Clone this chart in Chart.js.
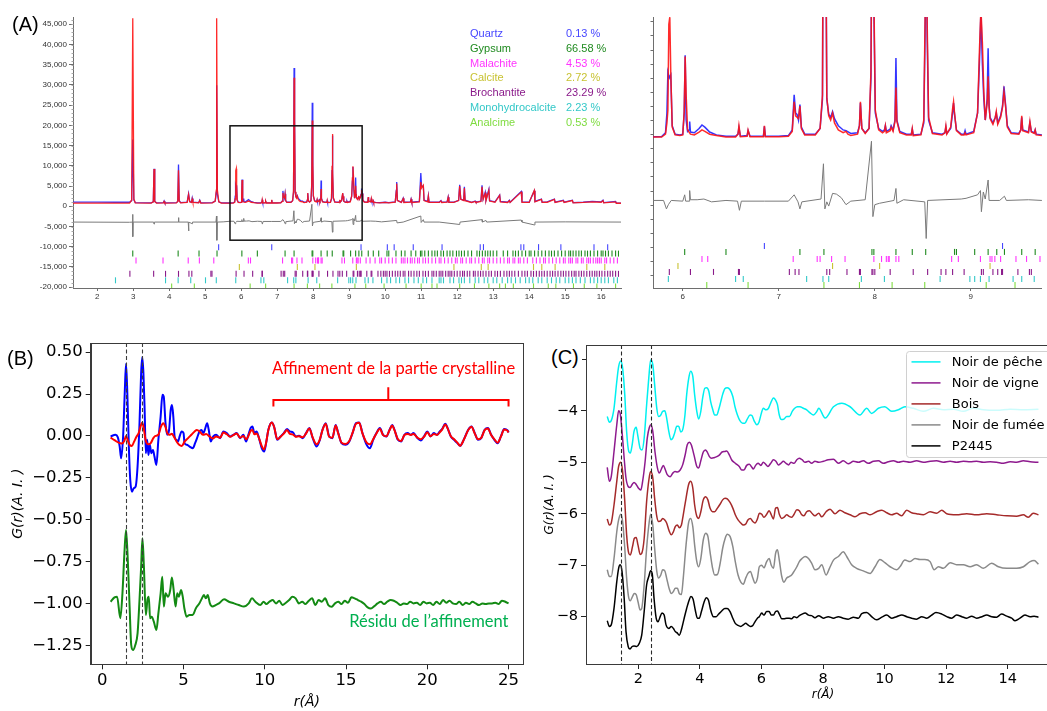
<!DOCTYPE html>
<html>
<head>
<meta charset="utf-8">
<script src="https://cdn.jsdelivr.net/npm/chart.js@4.4.1/dist/chart.umd.min.js"></script>
<style>
  html, body { margin: 0; padding: 0; background: #fff; }
  body { width: 1047px; height: 711px; overflow: hidden; position: relative; }
  canvas { position: absolute; }
  .tag { position: absolute; font-family: "Liberation Sans", Arial, sans-serif; line-height: 1; color: #000; z-index: 2; }
</style>
</head>
<body>
<canvas id="xrdFull" style="left:0;top:0" width="640" height="310"></canvas>
<canvas id="xrdZoom" style="left:640px;top:0" width="407" height="310"></canvas>
<canvas id="pdfFit" style="left:0;top:310px" width="530" height="401"></canvas>
<canvas id="pdfSamples" style="left:530px;top:310px" width="540" height="401"></canvas>

<div class="tag" style="left:12px;top:14px;font-size:20px">(A)</div>
<div class="tag" style="left:7px;top:348px;font-size:20px">(B)</div>
<div class="tag" style="left:549px;top:346px;font-size:20px;background:#fff;padding:1px 3px 2px 2px">(C)</div>

<script>
// ---------- (A) diffraction pattern: observed, calculated, difference ----------
const xrdObserved = [
  [1.33,1050],[2.0,1050],[2.5,1000],[2.9,1000],[2.96,1400],[2.99,16500],[3.02,1600],[3.06,900],
  [3.5,850],[3.56,1100],[3.58,9300],[3.6,1200],[3.65,850],[3.84,900],[3.86,1300],[3.88,850],
  [4.2,900],[4.24,1200],[4.26,10300],[4.28,1400],[4.32,900],[4.5,1000],[4.54,3100],[4.57,1200],
  [4.62,1000],[4.64,2000],[4.66,1000],[4.82,900],[4.85,1500],[4.88,850],[5.2,900],[5.28,1300],
  [5.31,3500],[5.32,29900],[5.34,3000],[5.38,1100],[5.45,850],
  [5.69,820],[5.78,830],[5.82,1100],[5.835,2500],[5.845,5400],[5.86,5000],[5.875,5200],[5.89,1600],
  [5.92,1000],[5.97,950],[6.0,1000],[6.015,2500],[6.025,6600],[6.035,2000],[6.05,1200],[6.065,1300],
  [6.072,1900],[6.08,1150],[6.12,1100],[6.17,1400],[6.2,1650],[6.23,1500],[6.28,1150],[6.35,950],
  [6.45,850],[6.55,850],[6.575,1000],[6.585,1450],[6.6,850],[6.67,900],[6.68,1250],[6.7,850],
  [6.84,850],[6.85,1550],[6.86,850],[7.0,850],[7.1,900],[7.14,1300],[7.16,3800],[7.175,2500],
  [7.19,2400],[7.205,2000],[7.22,3100],[7.235,1500],[7.27,1000],[7.38,1000],[7.43,1400],[7.455,3500],
  [7.47,34200],[7.485,21000],[7.5,3500],[7.52,2400],[7.54,2200],[7.56,2600],[7.58,2100],[7.62,1600],
  [7.67,1300],[7.7,1250],[7.75,1050],[7.82,1100],[7.84,1600],[7.85,3200],[7.865,1400],[7.9,1100],
  [7.94,1400],[7.96,5000],[7.975,25600],[7.99,10000],[8.005,2500],[8.04,1400],[8.08,1200],[8.1,1300],
  [8.11,1600],[8.12,1200],[8.16,1350],[8.17,1600],[8.19,1300],[8.21,2000],[8.22,6400],[8.23,2000],
  [8.26,1200],[8.33,1000],[8.38,1000],[8.39,1350],[8.4,950],[8.48,1000],[8.51,1800],[8.525,9000],
  [8.535,17500],[8.545,8000],[8.56,2000],[8.6,1100],[8.7,1000],[8.73,1100],[8.74,1500],[8.75,1050],
  [8.79,1400],[8.81,2500],[8.82,3200],[8.83,2400],[8.85,1300],[8.9,1000],[8.93,1000],[8.94,1250],
  [8.95,1000],[9.03,1200],[9.07,2500],[9.09,6200],[9.105,9700],[9.12,6000],[9.135,3500],[9.15,2000],
  [9.17,3500],[9.18,7100],[9.19,3000],[9.2,2200],[9.23,1800],[9.255,2200],[9.265,2500],[9.28,1800],
  [9.31,2300],[9.33,3000],[9.345,4400],[9.36,3200],[9.38,1600],[9.42,1100],[9.5,1050],[9.52,1300],
  [9.53,2200],[9.54,1300],[9.6,1150],[9.615,1800],[9.63,1200],[9.66,1100],[9.67,1300],[9.68,1000],
  [9.74,950],[9.85,900],[10.0,1000],[10.1,900],[10.28,1100],[10.31,4000],[10.32,6000],[10.34,1500],
  [10.45,1000],[10.5,2000],[10.52,1000],[10.7,1100],[10.72,1800],[10.74,1000],[10.95,1200],[10.99,8200],
  [11.01,5000],[11.06,5000],[11.08,1500],[11.18,1200],[11.2,2600],[11.22,1000],[11.5,1000],[11.55,1400],
  [11.57,1000],[11.72,1100],[11.75,2300],[11.77,1000],[11.9,1000],[12.04,1500],[12.07,5300],[12.1,1800],
  [12.18,1500],[12.2,4800],[12.22,1500],[12.4,1000],[12.5,1300],[12.52,1000],[12.66,1300],[12.69,5200],
  [12.72,1800],[12.78,3500],[12.8,1500],[12.88,4200],[12.9,1400],[13.05,1100],[13.18,2800],[13.2,1200],
  [13.4,1000],[13.45,1500],[13.47,1000],[13.78,3700],[13.8,1100],[14.0,1000],[14.14,3800],[14.16,1200],
  [14.34,1800],[14.36,1000],[14.5,1100],[14.7,1800],[14.72,1000],[14.95,1500],[14.97,1000],[15.2,1500],
  [15.22,900],[15.5,1000],[15.75,1200],[16.0,1100],[16.05,1500],[16.07,900],[16.4,1200],[16.42,800],[16.55,800]
];
const xrdCalculated = [
  [1.33,800],[2.0,800],[2.5,780],[2.9,800],[2.96,1500],[2.99,46500],[3.02,1800],[3.06,850],
  [3.5,800],[3.56,1100],[3.58,9200],[3.6,1200],[3.65,800],[3.84,850],[3.86,1200],[3.88,800],
  [4.2,850],[4.24,1200],[4.26,8900],[4.28,1300],[4.32,850],[4.5,950],[4.54,2900],[4.57,1100],
  [4.62,950],[4.64,1800],[4.66,950],[4.82,850],[4.85,1400],[4.88,800],[5.2,850],[5.28,1300],
  [5.31,4000],[5.32,46500],[5.34,4000],[5.38,1100],[5.45,800],
  [5.69,800],[5.78,800],[5.82,1000],[5.835,1800],[5.845,2700],[5.855,8800],[5.865,9300],[5.875,5400],
  [5.89,1500],[5.92,950],[5.97,900],[6.0,950],[6.015,2600],[6.025,6500],[6.035,3800],[6.05,1300],
  [6.08,1000],[6.12,950],[6.17,1150],[6.2,1300],[6.23,1200],[6.28,1000],[6.35,900],[6.45,800],
  [6.55,800],[6.575,1000],[6.585,1600],[6.6,820],[6.67,850],[6.68,1300],[6.7,820],[6.84,820],
  [6.85,1600],[6.86,820],[7.0,820],[7.1,850],[7.14,1200],[7.16,3300],[7.175,2300],[7.19,2200],
  [7.205,2100],[7.22,3000],[7.235,1400],[7.27,950],[7.38,950],[7.43,1400],[7.455,3800],[7.47,31800],
  [7.485,21300],[7.5,3600],[7.52,2300],[7.54,2000],[7.56,2500],[7.58,1800],[7.62,1300],[7.67,1100],
  [7.7,1200],[7.72,1000],[7.75,900],[7.82,1000],[7.84,1600],[7.85,3300],[7.865,1400],[7.9,1050],
  [7.94,1400],[7.96,5500],[7.975,21200],[7.99,11000],[8.005,2700],[8.04,1300],[8.08,1100],[8.1,1200],
  [8.11,1600],[8.12,1100],[8.16,1250],[8.17,1500],[8.19,1200],[8.21,1900],[8.22,4300],[8.23,1900],
  [8.26,1100],[8.33,950],[8.38,950],[8.39,1400],[8.4,900],[8.48,950],[8.51,2000],[8.525,10000],
  [8.535,17900],[8.545,9000],[8.56,2200],[8.6,1050],[8.7,950],[8.73,1100],[8.74,1600],[8.75,1000],
  [8.79,1500],[8.81,2800],[8.82,3300],[8.83,2500],[8.85,1250],[8.9,950],[8.93,950],[8.94,1100],
  [8.95,950],[9.03,1100],[9.07,2500],[9.09,7000],[9.105,9900],[9.12,7500],[9.135,4000],[9.15,2000],
  [9.17,3200],[9.18,5100],[9.19,3000],[9.2,2100],[9.23,1700],[9.255,2200],[9.265,2600],[9.28,1700],
  [9.31,2200],[9.33,2900],[9.345,4000],[9.36,3100],[9.38,1500],[9.42,1050],[9.5,1000],[9.52,1300],
  [9.53,2300],[9.54,1250],[9.6,1100],[9.615,1900],[9.63,1150],[9.66,1050],[9.67,1300],[9.68,950],
  [9.74,900],[9.85,850],[10.0,950],[10.1,850],[10.28,1050],[10.31,3800],[10.32,5600],[10.34,1400],
  [10.45,950],[10.5,1900],[10.52,950],[10.7,1050],[10.72,1700],[10.74,950],[10.95,1100],[10.99,6000],
  [11.01,4500],[11.06,5200],[11.08,1400],[11.18,1100],[11.2,2500],[11.22,950],[11.5,950],[11.55,1300],
  [11.57,950],[11.72,1050],[11.75,2200],[11.77,950],[11.9,950],[12.04,1400],[12.07,5000],[12.1,1700],
  [12.18,1400],[12.2,4500],[12.22,1400],[12.4,950],[12.5,1200],[12.52,950],[12.66,1200],[12.69,4800],
  [12.72,1700],[12.78,3200],[12.8,1400],[12.88,4000],[12.9,1300],[13.05,1000],[13.18,2700],[13.2,1100],
  [13.4,950],[13.45,1400],[13.47,950],[13.78,3500],[13.8,1000],[14.0,950],[14.14,3900],[14.16,1100],
  [14.34,1700],[14.36,950],[14.5,1000],[14.7,1700],[14.72,950],[14.95,1400],[14.97,950],[15.2,1400],
  [15.22,850],[15.5,950],[15.75,1100],[16.0,1000],[16.05,1400],[16.07,850],[16.4,1100],[16.42,750],[16.55,750]
];
const xrdDifference = [
  [1.33,-3900],[2.9,-3950],[2.98,-3900],[2.985,-2000],[2.995,-7500],[3.0,-3900],[3.57,-3900],[3.58,-4400],
  [3.59,-3900],[4.25,-3900],[4.26,-2800],[4.27,-3900],[4.53,-3900],[4.54,-6100],[4.55,-3900],[4.64,-4300],
  [4.65,-3900],[5.3,-3900],[5.315,-2400],[5.325,-8400],[5.34,-3900],[5.5,-3850],
  [5.69,-3700],[5.8,-3700],[5.83,-4300],[5.85,-4000],[5.88,-3700],[6.0,-3750],[6.02,-3300],[6.03,-3750],
  [6.065,-3750],[6.072,-3000],[6.08,-3650],[6.15,-3650],[6.22,-3600],[6.3,-3800],[6.45,-3700],[6.57,-3750],
  [6.59,-4400],[6.61,-3750],[6.85,-3750],[7.1,-3750],[7.16,-3300],[7.2,-3800],[7.22,-4300],[7.24,-3800],
  [7.44,-3600],[7.465,-1100],[7.48,-4300],[7.5,-3800],[7.52,-4100],[7.56,-3200],[7.6,-3250],[7.65,-3500],
  [7.7,-4000],[7.75,-3750],[7.9,-3650],[7.965,500],[7.98,-4850],[8.0,-4000],[8.05,-3900],[8.2,-3700],
  [8.22,-2850],[8.23,-3900],[8.3,-3650],[8.52,-3800],[8.535,-6400],[8.55,-3700],[8.9,-3600],[8.95,-3550],
  [9.07,-3300],[9.1,-3000],[9.11,-4500],[9.13,-3100],[9.15,-3600],[9.18,-2250],[9.19,-3700],[9.3,-3700],
  [9.35,-3400],[9.37,-3700],[9.6,-3650],[9.74,-3700],[9.9,-3850],[10.32,-3500],[10.33,-4100],[10.5,-3900],
  [10.99,-2400],[11.0,-4000],[11.06,-3300],[11.08,-3900],[11.5,-3900],[12.07,-4500],[12.08,-3900],
  [12.69,-3300],[12.7,-3900],[12.8,-3500],[12.82,-3900],[13.78,-3400],[13.8,-3900],[14.14,-4600],
  [14.16,-3900],[15.0,-3850],[16.55,-3900]
];

// reflection positions of each phase
const reflQuartz = [5.375,6.85,9.33,10.06,10.25,10.78,11.58,12.64,12.73,13.77,13.85,14.26,14.88,15.8,16.18];
const reflGypsum = [2.99,4.25,4.83,5.33,6.02,6.45,7.22,7.47,7.97,7.99,8.22,8.39,8.53,8.83,8.85,9.04,9.18,9.27,
  9.35,9.53,9.67,9.82,10.05,10.1,10.3,10.45,10.55,10.72,10.85,10.98,11.02,11.1,11.2,11.3,11.38,11.45,11.55,
  11.62,11.72,11.8,11.88,11.98,12.05,12.12,12.2,12.3,12.4,12.55,12.62,12.7,12.78,12.85,12.92,13.0,13.1,13.28,
  13.4,13.55,13.62,13.7,13.8,13.9,14.0,14.05,14.15,14.25,14.35,14.45,14.55,14.62,14.7,14.8,14.9,15.0,15.1,
  15.15,15.22,15.3,15.38,15.45,15.55,15.62,15.7,15.8,15.9,16.0,16.05,16.12,16.2,16.3,16.4,16.48];
const reflMalachite = [3.08,3.83,4.53,4.84,5.24,6.2,6.26,7.15,7.4,7.43,7.55,7.69,7.99,8.07,8.12,8.14,8.15,8.22,
  8.25,8.8,8.87,9.1,9.2,9.22,9.25,9.31,9.47,9.58,9.72,9.85,9.9,10.0,10.1,10.2,10.3,10.45,10.5,10.55,10.62,10.7,
  10.75,10.82,10.9,10.95,11.05,11.12,11.2,11.3,11.4,11.5,11.55,11.65,11.75,11.85,11.95,12.0,12.1,12.15,12.25,
  12.35,12.4,12.5,12.6,12.7,12.75,12.85,12.9,13.0,13.1,13.2,13.3,13.4,13.45,13.55,13.6,13.7,13.75,13.85,13.95,
  14.1,14.2,14.3,14.4,14.45,14.55,14.65,14.75,14.85,14.95,15.0,15.1,15.15,15.2,15.3,15.35,15.45,15.5,15.6,
  15.65,15.7,15.78,15.85,15.9,15.95,16.0,16.1,16.15,16.25,16.35,16.45];
const reflCalcite = [5.95,7.56,8.05,9.2,11.91,12.67,12.86,14.12,14.35,14.72,15.6,16.1];
const reflBrochantite = [2.91,3.57,3.9,4.26,4.55,4.63,5.16,5.19,5.86,6.08,6.32,6.58,6.59,7.11,7.17,7.21,7.5,
  7.53,7.71,7.84,7.85,7.97,7.98,8.0,8.16,8.4,8.55,8.69,8.74,8.81,8.93,9.11,9.13,9.23,9.28,9.32,9.33,9.49,9.61,
  9.63,9.8,9.88,9.95,10.0,10.05,10.12,10.2,10.28,10.35,10.42,10.5,10.55,10.65,10.72,10.8,10.88,10.95,11.05,
  11.12,11.2,11.3,11.35,11.42,11.5,11.55,11.6,11.68,11.75,11.8,11.85,11.92,12.0,12.08,12.15,12.2,12.28,12.35,
  12.45,12.5,12.58,12.65,12.72,12.8,12.88,12.95,13.05,13.12,13.2,13.3,13.38,13.45,13.52,13.6,13.7,13.8,13.88,
  13.95,14.05,14.12,14.2,14.28,14.35,14.42,14.5,14.58,14.65,14.72,14.8,14.88,14.95,15.02,15.1,15.18,15.25,
  15.3,15.38,15.45,15.52,15.6,15.68,15.75,15.82,15.88,15.95,16.02,16.1,16.18,16.25,16.32,16.4,16.48];
const reflMonohydrocalcite = [2.51,3.9,4.25,4.6,5.01,5.31,5.85,6.55,6.63,7.29,7.46,7.52,7.86,8.1,8.68,8.99,
  9.04,9.1,9.19,9.44,9.53,9.66,9.9,10.05,10.15,10.3,10.4,10.55,10.65,10.8,10.92,11.05,11.15,11.3,11.5,11.55,
  11.62,11.8,11.9,12.05,12.12,12.2,12.35,12.5,12.6,12.75,12.85,13.0,13.1,13.25,13.4,13.5,13.62,13.75,13.9,
  14.0,14.1,14.25,14.35,14.5,14.62,14.75,14.85,15.0,15.1,15.2,15.3,15.42,15.55,15.7,15.8,15.9,16.0,16.1,
  16.2,16.35,16.45];
const reflAnalcime = [4.07,4.7,6.25,6.68,7.47,7.84,8.18,8.52,9.16,9.46,9.97,10.58,11.0,11.3,11.44,12.07,12.48,
  12.88,13.18,13.34,13.56,14.12,14.53,14.74,15.23,15.53,15.88,16.4];

const phaseNames = ['Quartz','Gypsum','Malachite','Calcite','Brochantite','Monohydrocalcite','Analcime'];
const phaseFractions = ['0.13 %','66.58 %','4.53 %','2.72 %','23.29 %','2.23 %','0.53 %'];
const phaseReflections = [reflQuartz, reflGypsum, reflMalachite, reflCalcite, reflBrochantite,
  reflMonohydrocalcite, reflAnalcime];
const phaseColors = ['#4646ff','#1f8a1f','#ff33ff','#c8c232','#8a1a8a','#33c8c8','#7fdc40'];
const zoomWindow = { x0: 5.69, x1: 9.36, y0: -8380, y1: 19900 };

// axis ticks of the diffraction panels
const countTicks = [-20000,-15000,-10000,-5000,0,5000,10000,15000,20000,25000,30000,35000,40000,45000];
const angleTicks = [2,3,4,5,6,7,8,9,10,11,12,13,14,15,16];
const zoomAngleTicks = [6,7,8,9];

// ---------- (B) PDF refinement ----------
const gObserved = [
  [0.51,-0.003],[0.81,0.007],[0.95,-0.007],[1.07,-0.063],[1.16,-0.133],[1.28,-0.003],[1.38,0.255],[1.46,0.43],
  [1.54,0.255],[1.64,-0.083],[1.72,-0.262],[1.83,-0.332],[1.93,-0.312],[2.05,-0.302],[2.17,-0.182],[2.29,0.076],
  [2.39,0.375],[2.46,0.47],[2.53,0.375],[2.6,0.175],[2.68,-0.103],[2.76,-0.023],[2.84,-0.113],[2.92,-0.053],
  [3.02,-0.103],[3.12,-0.083],[3.21,-0.123],[3.33,-0.173],[3.45,-0.023],[3.59,0.115],[3.7,0.245],[3.78,0.235],
  [3.89,0.076],[3.99,0.007],[4.11,0.036],[4.21,0.155],[4.29,0.185],[4.37,0.115],[4.45,-0.003],[4.56,-0.023],
  [4.66,-0.033],[4.76,-0.003],[4.88,0.027],[5.0,0.017],[5.06,-0.043],[5.21,-0.053],[5.37,-0.063],[5.57,-0.073],
  [5.71,-0.043],[5.83,-0.013],[5.98,0.027],[6.1,0.036],[6.22,0.017],[6.34,0.046],[6.45,0.076],[6.55,0.037],
  [6.67,-0.033],[6.83,-0.003],[7.0,0.007],[7.25,-0.013],[7.45,0.027],[7.66,0.017],[7.86,-0.003],[8.07,0.007],
  [8.27,0.017],[8.48,-0.013],[8.68,0.007],[8.85,-0.033],[8.99,0.007],[9.13,0.047],[9.24,0.057],[9.36,0.017],
  [9.5,0.027],[9.67,-0.023],[9.81,-0.073],[9.96,-0.093],[10.08,-0.043],[10.22,0.037],[10.43,0.08],[10.57,0.056],
  [10.77,-0.023],[10.97,-0.003],[11.17,0.017],[11.37,0.041],[11.54,0.027],[11.74,0.021],[11.9,-0.003],
  [12.1,0.001],[12.34,-0.013],[12.54,0.017],[12.74,0.047],[12.95,-0.013],[13.19,-0.063],[13.39,-0.023],
  [13.55,0.037],[13.75,0.076],[13.96,-0.003],[14.16,-0.013],[14.36,0.066],[14.52,0.017],[14.72,-0.043],
  [14.96,-0.053],[15.2,-0.033],[15.4,0.017],[15.61,0.076],[15.81,0.08],[16.01,0.017],[16.27,-0.053],
  [16.47,-0.073],[16.67,-0.023],[16.87,0.017],[17.08,0.047],[17.28,0.007],[17.48,-0.003],[17.68,0.037],
  [17.84,0.066],[17.98,0.037],[18.19,-0.023],[18.39,-0.033],[18.59,0.007],[18.79,0.017],[18.99,0.007],
  [19.15,0.017],[19.39,-0.013],[19.6,-0.027],[19.8,-0.003],[20.0,0.027],[20.2,-0.003],[20.4,0.017],
  [20.6,0.007],[20.77,0.027],[20.91,0.041],[21.11,0.072],[21.25,0.047],[21.45,-0.003],[21.65,-0.023],
  [21.85,-0.043],[22.02,-0.059],[22.26,-0.019],[22.52,0.037],[22.72,0.056],[22.92,0.017],[23.12,-0.023],
  [23.32,-0.013],[23.53,0.037],[23.73,0.047],[23.93,0.007],[24.13,-0.023],[24.33,-0.043],[24.53,-0.003],
  [24.73,0.041],[24.94,0.033],[25.0,0.021]
];
const gCalculated = [
  [0.51,-0.01],[0.75,-0.025],[1.0,-0.04],[1.2,-0.045],[1.35,-0.03],[1.46,0.0],[1.58,-0.03],[1.7,-0.055],
  [1.82,-0.06],[1.95,-0.035],[2.1,-0.005],[2.25,0.02],[2.38,0.065],[2.46,0.08],[2.55,0.045],[2.68,-0.03],
  [2.84,-0.05],[2.98,-0.043],[3.14,-0.013],[3.27,0.0],[3.45,0.007],[3.61,0.055],[3.75,0.076],[3.88,0.055],
  [4.0,0.017],[4.12,0.007],[4.28,0.013],[4.4,-0.003],[4.57,-0.033],[4.73,-0.053],[4.89,-0.06],[5.07,-0.033],
  [5.28,-0.013],[5.48,0.007],[5.68,0.027],[5.82,0.036],[5.99,0.027],[6.19,0.007],[6.39,0.011],[6.6,-0.003],
  [6.8,-0.015],[7.0,-0.003],[7.25,-0.01],[7.45,0.02],[7.66,0.01],[7.86,-0.005],[8.07,0.005],[8.27,0.015],
  [8.48,-0.01],[8.68,0.0],[8.85,-0.02],[8.99,0.0],[9.13,0.03],[9.24,0.035],[9.36,0.01],[9.5,0.015],
  [9.67,-0.02],[9.81,-0.06],[9.96,-0.08],[10.08,-0.04],[10.22,0.035],[10.43,0.08],[10.57,0.055],
  [10.77,-0.02],[10.97,-0.005],[11.17,0.015],[11.37,0.035],[11.54,0.012],[11.74,0.008],[11.9,-0.005],
  [12.1,-0.002],[12.34,-0.008],[12.54,0.015],[12.74,0.045],[12.95,-0.01],[13.19,-0.05],[13.39,-0.02],
  [13.55,0.035],[13.75,0.072],[13.96,-0.005],[14.16,-0.01],[14.36,0.062],[14.52,0.015],[14.72,-0.04],
  [14.96,-0.048],[15.2,-0.03],[15.4,0.018],[15.61,0.072],[15.81,0.078],[16.01,0.015],[16.27,-0.04],
  [16.47,-0.05],[16.67,-0.02],[16.87,0.015],[17.08,0.043],[17.28,0.005],[17.48,-0.002],[17.68,0.035],
  [17.84,0.062],[17.98,0.035],[18.19,-0.02],[18.39,-0.03],[18.59,0.005],[18.79,0.012],[18.99,0.006],
  [19.15,0.012],[19.39,-0.01],[19.6,-0.02],[19.8,-0.005],[20.0,0.022],[20.2,-0.002],[20.4,0.012],
  [20.6,0.006],[20.77,0.022],[20.91,0.038],[21.11,0.068],[21.25,0.045],[21.45,-0.002],[21.65,-0.02],
  [21.85,-0.04],[22.02,-0.058],[22.26,-0.02],[22.52,0.035],[22.72,0.055],[22.92,0.015],[23.12,-0.02],
  [23.32,-0.012],[23.53,0.035],[23.73,0.045],[23.93,0.006],[24.13,-0.02],[24.33,-0.04],[24.53,-0.004],
  [24.73,0.038],[24.94,0.03],[25.0,0.02]
];
const gResidual = [
  [0.51,-0.988],[0.75,-0.962],[0.91,-0.958],[1.11,-1.087],[1.24,-0.938],[1.36,-0.70],[1.46,-0.56],[1.56,-0.72],
  [1.68,-1.017],[1.78,-1.246],[1.89,-1.276],[2.03,-1.246],[2.17,-1.177],[2.29,-0.977],[2.39,-0.779],[2.47,-0.61],
  [2.56,-0.779],[2.68,-1.067],[2.78,-0.974],[2.86,-0.958],[2.94,-1.087],[3.04,-1.077],[3.17,-1.107],[3.33,-1.157],
  [3.45,-1.058],[3.59,-0.938],[3.69,-0.839],[3.79,-1.017],[3.89,-0.938],[4.04,-0.958],[4.18,-0.918],[4.28,-0.843],
  [4.38,-0.908],[4.51,-1.017],[4.61,-0.938],[4.71,-0.958],[4.85,-0.918],[4.95,-0.958],[5.05,-1.027],[5.19,-1.077],
  [5.36,-1.067],[5.56,-1.067],[5.76,-1.027],[5.97,-0.998],[6.13,-0.968],[6.25,-0.948],[6.37,-0.968],[6.49,-0.948],
  [6.62,-0.998],[6.78,-1.017],[6.98,-1.008],[7.18,-0.998],[7.49,-0.974],[7.79,-0.988],[8.1,-0.998],[8.4,-1.008],
  [8.71,-1.017],[9.01,-0.998],[9.21,-0.968],[9.42,-0.988],[9.72,-1.008],[9.93,-0.988],[10.09,-1.002],
  [10.29,-0.988],[10.49,-0.978],[10.69,-0.998],[10.89,-0.982],[11.09,-1.008],[11.3,-0.994],[11.5,-0.978],
  [11.7,-0.958],[11.9,-0.968],[12.1,-0.998],[12.3,-0.988],[12.5,-1.002],[12.71,-0.982],[12.91,-0.968],
  [13.11,-1.008],[13.31,-0.978],[13.51,-0.988],[13.71,-0.968],[13.91,-1.008],[14.12,-1.018],[14.32,-0.998],
  [14.52,-0.988],[14.72,-1.002],[14.92,-0.982],[15.12,-0.994],[15.33,-0.962],[15.53,-0.968],[15.73,-0.978],
  [15.93,-0.988],[16.13,-1.002],[16.33,-1.022],[16.53,-1.028],[16.74,-1.014],[16.94,-0.998],[17.14,-0.988],
  [17.34,-1.002],[17.54,-0.988],[17.74,-0.978],[17.94,-0.982],[18.15,-0.994],[18.35,-1.008],[18.55,-0.998],
  [18.75,-1.002],[18.95,-0.988],[19.15,-0.998],[19.36,-0.994],[19.56,-1.008],[19.76,-0.988],[19.96,-0.998],
  [20.16,-0.994],[20.36,-1.008],[20.56,-0.988],[20.77,-1.002],[20.97,-0.978],[21.17,-0.994],[21.37,-0.982],
  [21.57,-0.998],[21.77,-1.002],[21.97,-0.988],[22.18,-1.008],[22.38,-0.994],[22.58,-1.002],[22.78,-0.988],
  [22.98,-0.998],[23.18,-1.008],[23.39,-0.998],[23.59,-1.002],[23.79,-0.998],[23.99,-0.998],[24.19,-0.994],
  [24.39,-1.002],[24.59,-0.982],[24.8,-0.988],[25.0,-0.998]
];
const bondDistancesB = [1.46, 2.44];

// ---------- (C) reference blacks and sample ----------
const sampleNames = ['Noir de pêche','Noir de vigne','Bois','Noir de fumée','P2445'];
const gNoirPeche = [
  [0.99,-4.11],[1.06,-4.22],[1.12,-4.19],[1.21,-3.95],[1.30,-3.43],[1.36,-3.14],[1.43,-3.03],[1.49,-3.17],
  [1.56,-3.69],[1.62,-4.40],[1.69,-4.79],[1.74,-4.82],[1.80,-4.66],[1.86,-4.40],[1.93,-4.32],[1.98,-4.47],
  [2.06,-4.73],[2.12,-4.76],[2.19,-4.53],[2.27,-3.88],[2.34,-3.36],[2.40,-3.01],[2.47,-3.10],[2.53,-3.49],
  [2.60,-3.95],[2.66,-4.11],[2.73,-4.08],[2.79,-4.01],[2.86,-4.00],[2.92,-4.14],[2.99,-4.40],[3.06,-4.56],
  [3.12,-4.53],[3.18,-4.43],[3.25,-4.30],[3.31,-4.30],[3.38,-4.41],[3.44,-4.37],[3.51,-4.11],[3.57,-3.69],
  [3.64,-3.36],[3.70,-3.23],[3.77,-3.33],[3.83,-3.69],[3.90,-4.01],[3.96,-4.16],[4.03,-4.01],[4.09,-3.75],
  [4.16,-3.56],[4.22,-3.55],[4.29,-3.62],[4.35,-3.82],[4.42,-3.98],[4.48,-4.08],[4.55,-4.08],[4.61,-3.98],
  [4.68,-3.82],[4.74,-3.68],[4.81,-3.57],[4.89,-3.55],[4.98,-3.59],[5.07,-3.72],[5.14,-3.92],[5.22,-4.08],
  [5.30,-4.19],[5.39,-4.24],[5.46,-4.24],[5.54,-4.16],[5.63,-4.08],[5.69,-4.09],[5.76,-4.19],[5.85,-4.27],
  [5.92,-4.22],[6.0,-4.04],[6.06,-3.95],[6.15,-3.98],[6.23,-3.95],[6.30,-3.85],[6.39,-3.75],[6.46,-3.79],
  [6.52,-3.88],[6.58,-4.08],[6.65,-4.17],[6.73,-4.16],[6.82,-4.11],[6.91,-4.11],[7.0,-4.01],[7.08,-3.95],
  [7.17,-3.92],[7.25,-3.92],[7.36,-3.95],[7.47,-3.98],[7.58,-4.04],[7.69,-4.08],[7.80,-4.01],[7.86,-3.95],
  [8.07,-4.14],[8.34,-3.92],[8.61,-3.85],[8.88,-3.92],[9.2,-4.08],[9.42,-3.95],[9.58,-4.05],[9.8,-3.95],
  [10.01,-3.92],[10.23,-4.01],[10.45,-3.98],[10.66,-3.92],[10.93,-3.95],[11.26,-4.01],[11.59,-3.95],
  [11.91,-3.98],[12.24,-3.97],[12.56,-4.01],[12.88,-3.95],[13.21,-3.98],[13.64,-3.99],[14.08,-3.97],
  [14.51,-3.98],[15.0,-3.97]
];
const gNoirVigne = [
  [0.99,-5.10],[1.06,-5.37],[1.12,-5.28],[1.21,-4.79],[1.30,-4.27],[1.36,-4.0],[1.41,-4.05],[1.47,-4.40],
  [1.54,-4.92],[1.60,-5.31],[1.67,-5.47],[1.73,-5.49],[1.80,-5.43],[1.86,-5.39],[1.93,-5.43],[2.0,-5.50],
  [2.08,-5.54],[2.14,-5.37],[2.22,-4.99],[2.29,-4.53],[2.36,-4.32],[2.41,-4.27],[2.47,-4.40],[2.54,-4.79],
  [2.62,-5.11],[2.68,-5.21],[2.75,-5.13],[2.81,-5.06],[2.88,-5.15],[2.94,-5.24],[3.03,-5.28],[3.12,-5.21],
  [3.19,-5.18],[3.27,-5.19],[3.36,-5.15],[3.44,-5.05],[3.52,-4.86],[3.59,-4.66],[3.66,-4.61],[3.72,-4.66],
  [3.81,-4.86],[3.90,-5.08],[3.96,-5.11],[4.03,-4.97],[4.11,-4.80],[4.18,-4.76],[4.24,-4.80],[4.31,-4.89],
  [4.38,-4.92],[4.46,-4.91],[4.55,-4.89],[4.63,-4.86],[4.72,-4.80],[4.81,-4.79],[4.87,-4.78],[4.96,-4.86],
  [5.03,-4.95],[5.11,-5.0],[5.20,-5.04],[5.28,-5.08],[5.36,-5.15],[5.43,-5.15],[5.52,-5.06],[5.61,-5.04],
  [5.67,-5.08],[5.74,-5.13],[5.81,-5.06],[5.89,-5.02],[5.98,-5.06],[6.06,-5.0],[6.14,-5.04],[6.21,-5.08],
  [6.30,-5.02],[6.39,-4.95],[6.47,-4.98],[6.55,-5.05],[6.63,-5.02],[6.71,-4.98],[6.80,-5.02],[6.88,-5.05],
  [6.96,-5.0],[7.06,-5.02],[7.15,-4.95],[7.23,-4.92],[7.32,-4.95],[7.42,-5.0],[7.53,-4.98],[7.63,-5.02],
  [7.74,-4.98],[7.86,-5.0],[8.01,-4.98],[8.17,-4.95],[8.34,-4.94],[8.5,-5.02],[8.66,-4.97],[8.82,-5.03],
  [8.99,-4.98],[9.15,-5.0],[9.31,-4.97],[9.47,-5.02],[9.64,-4.98],[9.8,-4.97],[9.96,-5.02],[10.12,-4.99],
  [10.29,-4.97],[10.45,-5.0],[10.61,-4.98],[10.83,-5.0],[11.04,-4.97],[11.26,-5.0],[11.48,-4.98],[11.69,-4.97],
  [11.91,-5.0],[12.13,-4.98],[12.34,-5.0],[12.56,-4.98],[12.78,-4.99],[12.99,-4.98],[13.21,-5.0],[13.43,-4.99],
  [13.64,-5.0],[13.86,-5.02],[14.08,-4.99],[14.29,-5.0],[14.51,-4.97],[14.73,-4.99],[15.0,-5.0]
];
const gBois = [
  [0.99,-6.10],[1.06,-6.22],[1.12,-6.18],[1.21,-5.83],[1.30,-5.37],[1.36,-5.08],[1.43,-5.0],[1.49,-5.18],
  [1.56,-5.76],[1.62,-6.41],[1.69,-6.77],[1.74,-6.80],[1.81,-6.64],[1.87,-6.48],[1.93,-6.46],[1.99,-6.61],
  [2.06,-6.79],[2.11,-6.77],[2.19,-6.48],[2.27,-5.76],[2.35,-5.31],[2.40,-5.18],[2.47,-5.30],[2.53,-5.70],
  [2.60,-6.05],[2.66,-6.15],[2.73,-6.14],[2.79,-6.09],[2.86,-6.12],[2.92,-6.18],[3.0,-6.33],[3.07,-6.41],
  [3.14,-6.35],[3.20,-6.25],[3.27,-6.22],[3.33,-6.27],[3.40,-6.22],[3.46,-6.02],[3.55,-5.70],[3.63,-5.44],
  [3.70,-5.37],[3.77,-5.50],[3.83,-5.83],[3.90,-6.05],[3.96,-6.09],[4.03,-5.96],[4.11,-5.73],[4.19,-5.67],
  [4.26,-5.73],[4.33,-5.89],[4.41,-5.96],[4.48,-5.96],[4.57,-5.89],[4.66,-5.81],[4.74,-5.73],[4.82,-5.70],
  [4.89,-5.71],[4.98,-5.78],[5.07,-5.89],[5.15,-6.02],[5.24,-6.12],[5.33,-6.18],[5.41,-6.22],[5.49,-6.20],
  [5.56,-6.12],[5.64,-6.09],[5.72,-6.15],[5.79,-6.18],[5.87,-6.10],[5.93,-5.99],[6.01,-6.01],[6.08,-6.07],
  [6.17,-6.01],[6.25,-5.94],[6.32,-6.02],[6.39,-6.10],[6.46,-5.89],[6.52,-5.88],[6.58,-6.01],[6.66,-6.09],
  [6.73,-6.07],[6.82,-6.02],[6.90,-6.05],[6.98,-6.07],[7.06,-6.01],[7.15,-5.92],[7.23,-5.94],[7.31,-6.02],
  [7.38,-6.04],[7.47,-5.96],[7.56,-5.94],[7.64,-5.99],[7.74,-6.04],[7.86,-5.99],[7.96,-6.06],[8.1,-5.96],
  [8.23,-5.91],[8.39,-6.0],[8.55,-5.93],[8.71,-5.98],[8.88,-6.02],[9.04,-6.06],[9.2,-6.0],[9.37,-5.98],
  [9.53,-6.02],[9.74,-5.96],[9.91,-5.93],[10.07,-5.98],[10.23,-6.02],[10.39,-5.99],[10.56,-6.04],[10.72,-5.93],
  [10.88,-5.98],[11.04,-6.0],[11.26,-6.02],[11.48,-5.96],[11.69,-5.99],[11.86,-5.93],[12.02,-6.0],[12.34,-6.02],
  [12.67,-6.0],[12.99,-6.02],[13.32,-6.0],[13.64,-6.02],[13.97,-6.04],[14.29,-6.05],[14.51,-6.02],[14.67,-6.07],
  [14.83,-5.99],[15.0,-6.02]
];
const gNoirFumee = [
  [0.99,-7.09],[1.06,-7.22],[1.12,-7.22],[1.21,-6.87],[1.30,-6.35],[1.36,-6.12],[1.43,-6.01],[1.49,-6.15],
  [1.56,-6.67],[1.62,-7.25],[1.69,-7.64],[1.74,-7.69],[1.81,-7.61],[1.87,-7.55],[1.93,-7.57],[1.99,-7.71],
  [2.06,-7.87],[2.11,-7.84],[2.19,-7.38],[2.27,-6.67],[2.35,-6.18],[2.40,-6.01],[2.47,-6.22],[2.53,-6.67],
  [2.60,-7.12],[2.66,-7.25],[2.73,-7.19],[2.79,-7.09],[2.86,-7.11],[2.92,-7.25],[3.0,-7.45],[3.07,-7.55],
  [3.14,-7.51],[3.20,-7.45],[3.27,-7.45],[3.33,-7.55],[3.40,-7.57],[3.46,-7.25],[3.55,-6.61],[3.63,-6.18],
  [3.70,-6.09],[3.77,-6.25],[3.83,-6.61],[3.90,-6.93],[3.96,-7.03],[4.03,-6.87],[4.11,-6.51],[4.19,-6.38],
  [4.26,-6.44],[4.33,-6.74],[4.41,-7.05],[4.48,-7.19],[4.57,-7.18],[4.66,-6.96],[4.74,-6.67],[4.82,-6.48],
  [4.89,-6.40],[4.98,-6.44],[5.07,-6.64],[5.15,-6.93],[5.24,-7.19],[5.33,-7.33],[5.41,-7.37],[5.49,-7.25],
  [5.56,-7.16],[5.64,-7.12],[5.72,-7.25],[5.79,-7.35],[5.87,-7.25],[5.93,-7.03],[6.01,-7.0],[6.08,-7.05],
  [6.17,-6.93],[6.25,-6.87],[6.32,-7.0],[6.39,-7.06],[6.46,-6.77],[6.52,-6.70],[6.58,-6.90],[6.66,-7.22],
  [6.73,-7.33],[6.82,-7.25],[6.90,-7.22],[6.98,-7.19],[7.06,-7.12],[7.15,-7.03],[7.23,-6.93],[7.32,-6.87],
  [7.42,-6.83],[7.53,-6.87],[7.63,-6.96],[7.74,-7.09],[7.86,-7.06],[7.96,-6.99],[8.1,-7.19],[8.21,-7.06],
  [8.34,-6.90],[8.5,-6.83],[8.66,-6.74],[8.77,-6.83],[8.93,-6.99],[9.09,-7.06],[9.31,-7.11],[9.53,-7.16],
  [9.69,-7.03],[9.85,-6.89],[10.01,-6.95],[10.18,-7.03],[10.39,-7.09],[10.5,-7.03],[10.66,-6.90],[10.83,-6.93],
  [10.99,-6.87],[11.15,-6.89],[11.31,-6.89],[11.48,-6.93],[11.61,-7.09],[11.75,-7.03],[11.91,-7.06],
  [12.13,-6.95],[12.34,-6.99],[12.56,-6.99],[12.78,-7.03],[12.99,-6.99],[13.21,-7.06],[13.48,-6.96],
  [13.7,-7.03],[13.97,-7.06],[14.29,-7.06],[14.51,-7.03],[14.73,-6.93],[14.86,-6.91],[15.0,-6.98]
];
const gP2445 = [
  [0.99,-8.08],[1.06,-8.19],[1.12,-8.16],[1.21,-7.84],[1.30,-7.32],[1.36,-7.06],[1.41,-6.99],[1.47,-7.12],
  [1.54,-7.64],[1.60,-8.29],[1.67,-8.58],[1.73,-8.63],[1.80,-8.58],[1.86,-8.57],[1.95,-8.58],[2.03,-8.52],
  [2.11,-8.36],[2.19,-7.90],[2.27,-7.38],[2.34,-7.22],[2.40,-7.11],[2.45,-7.16],[2.51,-7.64],[2.58,-8.03],
  [2.64,-8.10],[2.71,-8.0],[2.77,-7.93],[2.84,-7.97],[2.90,-8.16],[2.99,-8.23],[3.07,-8.19],[3.14,-8.23],
  [3.20,-8.29],[3.27,-8.32],[3.33,-8.36],[3.41,-8.23],[3.49,-8.03],[3.57,-7.84],[3.65,-7.68],[3.71,-7.61],
  [3.78,-7.66],[3.85,-7.87],[3.92,-8.03],[3.98,-8.03],[4.05,-7.90],[4.14,-7.71],[4.21,-7.63],[4.28,-7.68],
  [4.35,-7.87],[4.44,-8.0],[4.53,-8.0],[4.61,-7.95],[4.71,-7.89],[4.81,-7.84],[4.89,-7.84],[4.98,-7.90],
  [5.07,-8.03],[5.15,-8.13],[5.24,-8.17],[5.33,-8.19],[5.41,-8.16],[5.49,-8.13],[5.56,-8.16],[5.64,-8.19],
  [5.72,-8.17],[5.79,-8.10],[5.87,-8.03],[5.93,-8.0],[6.01,-7.93],[6.08,-7.97],[6.17,-7.90],[6.25,-7.90],
  [6.32,-7.97],[6.39,-7.97],[6.46,-7.90],[6.52,-7.89],[6.58,-7.95],[6.66,-8.04],[6.73,-8.04],[6.82,-8.03],
  [6.90,-8.03],[6.98,-8.04],[7.06,-8.0],[7.15,-8.02],[7.23,-7.98],[7.32,-7.95],[7.42,-7.93],[7.53,-7.97],
  [7.63,-7.98],[7.74,-8.02],[7.86,-7.98],[8.01,-8.03],[8.17,-8.0],[8.34,-8.03],[8.5,-8.0],[8.66,-8.03],
  [8.82,-8.05],[8.99,-8.01],[9.15,-8.03],[9.26,-7.94],[9.42,-7.92],[9.58,-8.0],[9.74,-8.06],[9.91,-8.01],
  [10.07,-7.97],[10.23,-8.03],[10.39,-8.0],[10.56,-7.97],[10.72,-8.0],[10.88,-8.03],[11.04,-8.05],[11.21,-8.0],
  [11.37,-8.03],[11.53,-7.97],[11.67,-7.92],[11.86,-7.95],[12.02,-8.0],[12.18,-8.03],[12.34,-7.97],[12.51,-8.0],
  [12.67,-8.03],[12.83,-7.99],[12.99,-8.03],[13.16,-8.0],[13.32,-7.97],[13.48,-8.0],[13.64,-8.01],[13.8,-7.95],
  [13.97,-7.99],[14.13,-8.03],[14.24,-8.08],[14.4,-8.03],[14.56,-7.97],[14.73,-8.0],[14.86,-7.99],[15.0,-8.01]
];
const bondDistancesC = [1.43, 2.40];

// ---------- helpers ----------
const pts = arr => arr.map(([x, y]) => ({ x, y }));
const fixWidth = w => scale => { scale.width = w; };
const fixHeight = h => scale => { scale.height = h; };
const fixTicks = values => scale => { scale.ticks = values.map(value => ({ value })); };
const minus = s => s.replace('-', '\u2212');
const thousands = v => {
  const s = String(Math.abs(Math.round(v))).replace(/\B(?=(\d{3})+(?!\d))/g, ',');
  return v < 0 ? '-' + s : s;
};

Chart.defaults.font.family = '"DejaVu Sans", sans-serif';
Chart.defaults.animation = false;

// thin box around the plotting area (matplotlib style)
const frameBox = {
  id: 'frameBox',
  afterDraw(chart, args, opts) {
    const { ctx, chartArea: a } = chart;
    ctx.save();
    ctx.strokeStyle = opts.color;
    ctx.lineWidth = 1;
    ctx.strokeRect(Math.round(a.left) + 0.5, Math.round(a.top) + 0.5, Math.round(a.width), Math.round(a.height));
    ctx.restore();
  }
};

// dashed vertical lines at given x values
const refLines = {
  id: 'refLines',
  afterDatasetsDraw(chart, args, opts) {
    const { ctx, chartArea: a, scales: { x } } = chart;
    ctx.save();
    ctx.strokeStyle = opts.color;
    ctx.lineWidth = 1.1;
    ctx.setLineDash([4, 2.5]);
    opts.values.forEach(v => {
      const px = Math.round(x.getPixelForValue(v)) + 0.5;
      ctx.beginPath(); ctx.moveTo(px, a.top); ctx.lineTo(px, a.bottom); ctx.stroke();
    });
    ctx.restore();
  }
};

// short unlabelled ticks on the left axis between the labelled ones
const minorTicks = {
  id: 'minorTicks',
  afterDraw(chart, args, opts) {
    const { ctx, scales: { y } } = chart;
    const x0 = Math.round(y.right) + 0.5;
    ctx.save();
    ctx.strokeStyle = opts.color;
    ctx.lineWidth = 1;
    for (let v = Math.ceil(y.min / opts.step) * opts.step; v <= y.max; v += opts.step) {
      const py = Math.round(y.getPixelForValue(v)) + 0.5;
      ctx.beginPath(); ctx.moveTo(x0 - opts.length, py); ctx.lineTo(x0, py); ctx.stroke();
    }
    ctx.restore();
  }
};

// ---------- (A) left: full range ----------
const rowsFull = [-10100, -11700, -13400, -15000, -16700, -18300, -19800];
const rowsZoom = [-6930, -7350, -7850, -8350, -8770, -9270, -9700];

function reflectionSets(rows) {
  return phaseReflections.map((list, i) => ({
    data: list.map(v => ({ x: v, y: rows[i] })),
    showLine: false,
    pointStyle: 'line',
    rotation: 90,
    pointRadius: 3,
    borderColor: phaseColors[i],
    borderWidth: 1.1,
    order: 5
  }));
}

function xrdSets(width) {
  return [
    { data: pts(xrdCalculated), borderColor: 'rgba(255,20,20,0.9)', borderWidth: width, order: 1 },
    { data: pts(xrdObserved), borderColor: 'rgba(30,30,255,0.9)', borderWidth: width, order: 2 },
    { data: pts(xrdDifference), borderColor: '#7a7a7a', borderWidth: 1, order: 3 }
  ].map(d => Object.assign(d, { showLine: true, pointRadius: 0, tension: 0 }));
}

const phaseLegend = {
  id: 'phaseLegend',
  afterDraw(chart) {
    const { ctx } = chart;
    ctx.save();
    ctx.font = '11px "Liberation Sans", Arial, sans-serif';
    ctx.textBaseline = 'middle';
    phaseNames.forEach((name, i) => {
      const y = 34 + i * 14.75;
      ctx.fillStyle = phaseColors[i];
      ctx.fillText(name, 470, y);
      ctx.fillText(phaseFractions[i], 566, y);
    });
    ctx.restore();
  }
};

const zoomBox = {
  id: 'zoomBox',
  afterDatasetsDraw(chart) {
    const { ctx, scales: { x, y } } = chart;
    const x0 = x.getPixelForValue(zoomWindow.x0), x1 = x.getPixelForValue(zoomWindow.x1);
    const y0 = y.getPixelForValue(zoomWindow.y0), y1 = y.getPixelForValue(zoomWindow.y1);
    ctx.save();
    ctx.strokeStyle = '#111';
    ctx.lineWidth = 1.5;
    ctx.strokeRect(x0, y1, x1 - x0, y0 - y1);
    ctx.restore();
  }
};

const axisGray = '#6e6e6e';
const smallTicks = { size: 8, family: '"Liberation Sans", Arial, sans-serif' };

new Chart(document.getElementById('xrdFull'), {
  type: 'scatter',
  data: { datasets: [...xrdSets(1.3), ...reflectionSets(rowsFull)] },
  options: {
    responsive: false,
    devicePixelRatio: 1,
    layout: { padding: { left: 0, right: 19, top: 17, bottom: 0 } },
    plugins: {
      legend: { display: false }, tooltip: { enabled: false },
      minorTicks: { step: 1000, length: 2, color: '#a8a8a8' }
    },
    scales: {
      x: {
        type: 'linear', min: 1.33, max: 16.55,
        afterBuildTicks: fixTicks(angleTicks),
        afterFit: fixHeight(22),
        border: { color: axisGray },
        grid: { drawOnChartArea: false, tickLength: 3, color: axisGray },
        ticks: { autoSkip: false, maxRotation: 0, padding: 1, color: '#333', font: smallTicks }
      },
      y: {
        type: 'linear', min: -20200, max: 46800,
        afterBuildTicks: fixTicks(countTicks),
        afterFit: fixWidth(73),
        border: { color: axisGray },
        grid: { drawOnChartArea: false, tickLength: 4, color: axisGray },
        ticks: { autoSkip: false, padding: 2, color: '#333', font: smallTicks, callback: v => thousands(v) }
      }
    }
  },
  plugins: [minorTicks, zoomBox, phaseLegend]
});

// ---------- (A) right: enlarged window ----------
new Chart(document.getElementById('xrdZoom'), {
  type: 'scatter',
  data: { datasets: [...xrdSets(1.5), ...reflectionSets(rowsZoom)] },
  options: {
    responsive: false,
    devicePixelRatio: 1,
    layout: { padding: { left: 0, right: 0, top: 17, bottom: 0 } },
    plugins: {
      legend: { display: false }, tooltip: { enabled: false },
      minorTicks: { step: 1000, length: 3, color: axisGray }
    },
    scales: {
      x: {
        type: 'linear', min: 5.69, max: 9.74,
        afterBuildTicks: fixTicks(zoomAngleTicks),
        afterFit: fixHeight(22),
        border: { color: axisGray },
        grid: { drawOnChartArea: false, tickLength: 3, color: axisGray },
        ticks: { autoSkip: false, maxRotation: 0, padding: 1, color: '#333', font: smallTicks }
      },
      y: {
        type: 'linear', min: -9910, max: 9310,
        afterFit: fixWidth(13),
        border: { color: axisGray },
        grid: { drawOnChartArea: false, drawTicks: false },
        ticks: { display: false }
      }
    }
  },
  plugins: [minorTicks]
});

// ---------- (B) ----------
const refineNotes = {
  id: 'refineNotes',
  afterDatasetsDraw(chart) {
    const { ctx, scales: { x, y } } = chart;
    ctx.save();
    // bracket over the refined range
    const bx0 = x.getPixelForValue(10.53), bx1 = x.getPixelForValue(25.0), bxm = x.getPixelForValue(17.6);
    const by = y.getPixelForValue(0.215), byEnd = y.getPixelForValue(0.175), byTop = y.getPixelForValue(0.29);
    ctx.strokeStyle = '#ff0000';
    ctx.lineWidth = 2;
    ctx.beginPath();
    ctx.moveTo(bx0, byEnd); ctx.lineTo(bx0, by); ctx.lineTo(bx1, by); ctx.lineTo(bx1, byEnd);
    ctx.moveTo(bxm, by); ctx.lineTo(bxm, byTop);
    ctx.stroke();
    ctx.textBaseline = 'middle';
    ctx.font = '16.5px Lato, "Open Sans", sans-serif';
    ctx.fillStyle = '#ff0000';
    ctx.textAlign = 'center';
    ctx.fillText('Affinement de la partie crystalline', x.getPixelForValue(17.93), y.getPixelForValue(0.40));
    ctx.fillStyle = '#00b050';
    ctx.textAlign = 'right';
    ctx.fillText('Résidu de l\u2019affinement', x.getPixelForValue(25.0), y.getPixelForValue(-1.107));
    ctx.restore();
  }
};

const lineSet = (arr, color, width) => ({
  data: pts(arr), borderColor: color, borderWidth: width, showLine: true, pointRadius: 0,
  cubicInterpolationMode: 'monotone'
});

new Chart(document.getElementById('pdfFit'), {
  type: 'scatter',
  data: {
    datasets: [
      lineSet(gCalculated, '#ff0000', 2),
      lineSet(gObserved, '#0000ff', 2),
      lineSet(gResidual, '#138a13', 2)
    ]
  },
  options: {
    responsive: false,
    devicePixelRatio: 1,
    layout: { padding: { left: 0, right: 7, top: 33, bottom: 0 } },
    plugins: {
      legend: { display: false }, tooltip: { enabled: false },
      frameBox: { color: '#3a3a3a' },
      refLines: { values: bondDistancesB, color: '#3c3c3c' }
    },
    scales: {
      x: {
        type: 'linear', min: -0.714, max: 25.89,
        afterFit: fixHeight(46.7),
        border: { color: '#3a3a3a' },
        grid: { drawOnChartArea: false, tickLength: 5, color: '#222' },
        ticks: { stepSize: 5, includeBounds: false, maxRotation: 0, padding: 2, color: '#000', font: { size: 16.5 } },
        title: { display: true, text: 'r(Å)', color: '#000', padding: 0, font: { size: 14, style: 'italic' } }
      },
      y: {
        type: 'linear', min: -1.361, max: 0.554,
        afterFit: fixWidth(90.7),
        border: { color: '#3a3a3a' },
        grid: { drawOnChartArea: false, tickLength: 5, color: '#222' },
        ticks: { stepSize: 0.25, includeBounds: false, padding: 3, color: '#000', font: { size: 16.5 },
                 callback: v => minus((Math.abs(v) < 1e-9 ? 0 : v).toFixed(2)) },
        title: { display: true, text: 'G(r)(A. I. )', color: '#000', padding: { top: 9.6, bottom: 0 },
                 font: { size: 14, style: 'italic' } }
      }
    }
  },
  plugins: [frameBox, refLines, refineNotes]
});

// ---------- (C) ----------
const sampleLegend = {
  id: 'sampleLegend',
  afterDatasetsDraw(chart) {
    const { ctx, chartArea: a } = chart;
    const sets = chart.data.datasets;
    const w = 147, h = 106, r = 3;
    const x0 = a.right - 6.5 - w, y0 = a.top + 6.5;
    ctx.save();
    ctx.beginPath();
    ctx.roundRect(x0, y0, w, h, r);
    ctx.fillStyle = 'rgba(255,255,255,0.8)';
    ctx.fill();
    ctx.strokeStyle = '#d0d0d0';
    ctx.lineWidth = 1;
    ctx.stroke();
    ctx.font = '13px "DejaVu Sans", sans-serif';
    ctx.textBaseline = 'middle';
    sets.forEach((d, i) => {
      const y = y0 + 10.4 + i * 21;
      ctx.strokeStyle = d.borderColor;
      ctx.lineWidth = 1.5;
      ctx.beginPath(); ctx.moveTo(x0 + 5, y); ctx.lineTo(x0 + 34, y); ctx.stroke();
      ctx.fillStyle = '#000';
      ctx.fillText(d.label, x0 + 45.3, y + 0.5);
    });
    ctx.restore();
  }
};

const sampleColors = ['#00f0f0', '#8e1a8e', '#a52a2a', '#8a8a8a', '#000000'];
const sampleCurves = [gNoirPeche, gNoirVigne, gBois, gNoirFumee, gP2445];

new Chart(document.getElementById('pdfSamples'), {
  type: 'scatter',
  data: {
    datasets: sampleCurves.map((arr, i) => Object.assign(lineSet(arr, sampleColors[i], 1.5),
      { label: sampleNames[i], order: i }))
  },
  options: {
    responsive: false,
    devicePixelRatio: 1,
    layout: { padding: { left: 0, right: 10, top: 35, bottom: 0 } },
    plugins: {
      legend: { display: false }, tooltip: { enabled: false },
      frameBox: { color: '#3a3a3a' },
      refLines: { values: bondDistancesC, color: '#2a2a2a' }
    },
    scales: {
      x: {
        type: 'linear', min: 0.3, max: 15.7,
        afterFit: fixHeight(47),
        border: { color: '#3a3a3a' },
        grid: { drawOnChartArea: false, tickLength: 5, color: '#222' },
        ticks: { stepSize: 2, includeBounds: false, maxRotation: 0, padding: 2, color: '#000', font: { size: 14.5 } },
        title: { display: true, text: 'r(Å)', color: '#000', padding: { top: 0, bottom: 8.8 },
                 font: { size: 12, style: 'italic' } }
      },
      y: {
        type: 'linear', min: -8.92, max: -2.72,
        afterFit: fixWidth(56),
        border: { color: '#3a3a3a' },
        grid: { drawOnChartArea: false, tickLength: 5, color: '#222' },
        ticks: { stepSize: 1, includeBounds: false, padding: 3, color: '#000', font: { size: 14.5 },
                 callback: v => minus(String(Math.round(v))) },
        title: { display: true, text: 'G(r)(A. I. )', color: '#000', padding: { top: 12.8, bottom: 0 },
                 font: { size: 12, style: 'italic' } }
      }
    }
  },
  plugins: [frameBox, refLines, sampleLegend]
});
</script>
</body>
</html>
